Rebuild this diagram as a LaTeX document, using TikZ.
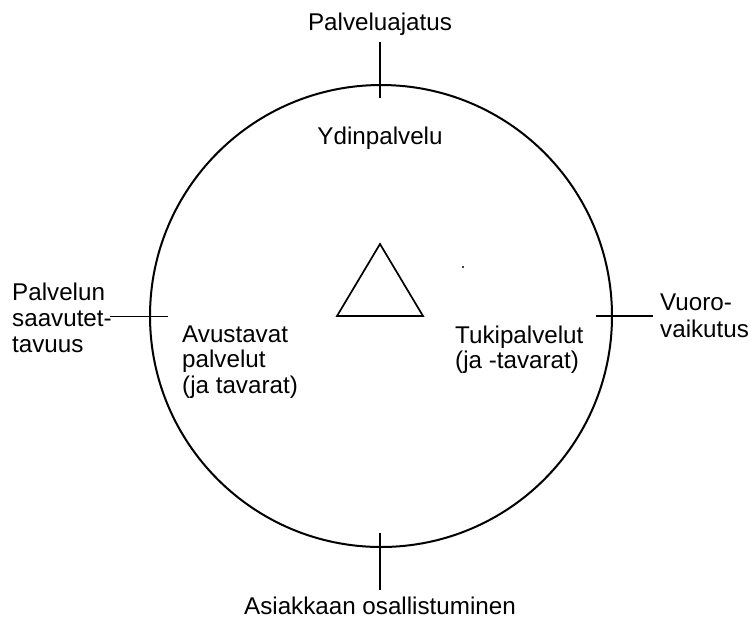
\documentclass[tikz,border=0pt]{standalone}
\usepackage{fontspec}
\setmainfont{Liberation Sans}
\begin{document}
\begin{tikzpicture}[x=1pt,y=-1pt,
  lbl/.style={inner sep=0pt,font=\fontsize{24.2}{26}\selectfont},
  tick/.style={line width=1.5pt},
  ring/.style={draw,circle,line width=2pt,inner sep=0pt,minimum size=462pt}]
\useasboundingbox (0,0) rectangle (751,622);
\node[ring] (c) at (381,316) {};
% ticks
\coordinate (t1) at (380,42); \coordinate (t2) at (380,98);
\coordinate (b1) at (380,533); \coordinate (b2) at (380,590);
\coordinate (l1) at (110,316.5); \coordinate (l2) at (168,316.5);
\coordinate (r1) at (596,316); \coordinate (r2) at (653,316);
\draw[tick] (t1) -- (t2);
\draw[tick] (b1) -- (b2);
\draw[tick] (l1) -- (l2);
\draw[tick] (r1) -- (r2);
% triangle
\coordinate (ta) at (380,244); \coordinate (tb) at (337,316); \coordinate (tc) at (423,316);
\draw[line width=1.7pt,line join=miter] (ta) -- (tb) -- (tc) -- cycle;
\fill (463,267) circle (1.1pt);
% labels
\node[lbl,anchor=base] (top) at (380,30) {Palveluajatus};
\node[lbl,anchor=base] (ydin) at (380,144) {Ydinpalvelu};
\node[lbl,anchor=base] (bot) at (380,614) {Asiakkaan osallistuminen};
\node[lbl,anchor=base west] (la) at (12,300) {Palvelun};
\node[lbl,anchor=base west] (lb) at (12,326) {saavutet-};
\node[lbl,anchor=base west] (lc) at (12,352) {tavuus};
\node[lbl,anchor=base west] (ra) at (660,310) {Vuoro-};
\node[lbl,anchor=base west] (rb) at (660,337) {vaikutus};
\node[lbl,anchor=base west] (aa) at (182,342) {Avustavat};
\node[lbl,anchor=base west] (ab) at (182,367) {palvelut};
\node[lbl,anchor=base west] (ac) at (182,393) {(ja tavarat)};
\node[lbl,anchor=base west] (ka) at (455,343) {Tukipalvelut};
\node[lbl,anchor=base west] (kb) at (455,368) {(ja -tavarat)};
\end{tikzpicture}
\end{document}
